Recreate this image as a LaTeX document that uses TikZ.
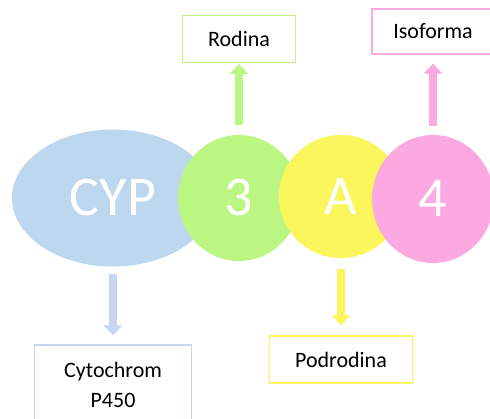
\documentclass[tikz,border=0pt]{standalone}
\usepackage{fontspec}
\setmainfont{Carlito}
\usetikzlibrary{arrows.meta,shapes.geometric}
\definecolor{cypblue}{HTML}{BDD7EE}
\definecolor{famgreen}{HTML}{BBF683}
\definecolor{subyellow}{HTML}{FAF65C}
\definecolor{isopink}{HTML}{FCA9E2}
\definecolor{blueline}{HTML}{C7D5F0}

\def\h{198}

\begin{document}
\begin{tikzpicture}[x=1pt,y=-1pt,
  ball/.style={ellipse,fill=#1,inner sep=0pt,minimum width=122pt,minimum height=126pt,text=white,font=\fontsize{56}{60}\selectfont},
  box/.style={draw=#1,line width=1.2pt,fill=white,minimum height=47pt,align=center,font=\fontsize{22}{30}\selectfont},
  arr/.style={draw=#1,line width=8pt,-{Triangle[length=10pt,width=18pt]}}]
  \useasboundingbox (0,0) rectangle (490,418);

  \node[ball=cypblue,minimum width=202pt,minimum height=137pt] (cyp) at (113,\h) {CYP};
  \node[ball=famgreen] (fam) at (239,\h) {3};
  \node[ball=subyellow,minimum width=124pt,minimum height=123pt] (sub) at (341,\h-1.5) {A};
  \node[ball=isopink,minimum height=128pt] (iso) at (433,\h+1) {4};

  \node[box=famgreen,minimum width=113pt] (rodina) at (239,39) {Rodina};
  \node[box=isopink,minimum width=122pt,minimum height=45pt] (isoforma) at (433,31.5) {Isoforma};
  \node[box=subyellow,minimum width=143pt] (podrodina) at (341,359.5) {Podrodina};
  \node[box=blueline,minimum width=157pt,minimum height=80pt] (cytochrom) at (113,385) {Cytochrom\\P450};

  \draw[arr=famgreen,shorten <=10pt,shorten >=1pt] (fam.north) -- (rodina.south);
  \draw[arr=isopink,shorten <=9pt,shorten >=9pt] (iso.north) -- (isoforma.south);
  \draw[arr=blueline,shorten <=7pt,shorten >=9pt] (cyp.south) -- (cytochrom.north);
  \draw[arr=subyellow,shorten <=11pt,shorten >=10pt] (sub.south) -- (podrodina.north);
  % \draw[help lines] (0,0) grid (490,418);
\end{tikzpicture}
\end{document}
